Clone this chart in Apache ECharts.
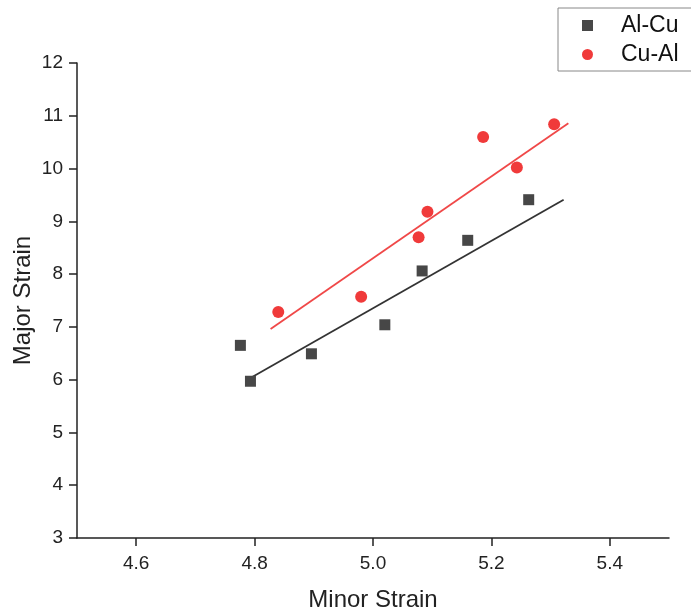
<!DOCTYPE html>
<html>
<head>
<meta charset="utf-8">
<script src="https://cdn.jsdelivr.net/npm/echarts@6/dist/echarts.min.js"></script>
<style>
  html, body { margin: 0; padding: 0; background: #fff; }
  #chart { width: 691px; height: 611px; }
</style>
</head>
<body>
<div id="chart"></div>
<script>
// Al-Cu measured points (minor strain, major strain)
const alCuX = [4.776, 4.793, 4.896, 5.020, 5.083, 5.160, 5.263]
const alCuY = [6.65, 5.97, 6.49, 7.04, 8.06, 8.64, 9.41]

// Cu-Al measured points
const cuAlX = [4.840, 4.980, 5.077, 5.092, 5.186, 5.243, 5.306]
const cuAlY = [7.28, 7.57, 8.70, 9.18, 10.60, 10.02, 10.84]

// linear fit end points
const alCuFitX = [4.793, 5.322]
const alCuFitY = [6.03, 9.41]
const cuAlFitX = [4.827, 5.330]
const cuAlFitY = [6.96, 10.86]

const xTicks = [4.6, 4.8, 5.0, 5.2, 5.4]

const zip = (xs, ys) => xs.map((x, i) => [x, ys[i]])

const font = 'Liberation Sans, Arial, sans-serif'

const chart = echarts.init(document.getElementById('chart'), null, { renderer: 'canvas' })

const option = {
  animation: false,
  backgroundColor: '#fff',
  // no outer bounds squeezing, keep the plot box where the figure has it
  grid: { left: 77, right: 22, top: 63, bottom: 73, containLabel: false, outerBoundsMode: 'none' },
  legend: {
    left: 558,
    top: 8,
    orient: 'vertical',
    data: ['Al-Cu', 'Cu-Al'],
    borderColor: '#888',
    borderWidth: 1,
    padding: [6, 60, 5, 24],
    itemWidth: 11,
    itemHeight: 11,
    itemGap: 6,
    textStyle: { fontFamily: font, fontSize: 23, color: '#111', padding: [0, 0, 0, 23], lineHeight: 23 }
  },
  xAxis: {
    type: 'value',
    min: 4.5,
    max: 5.5,
    name: 'Minor Strain',
    nameLocation: 'middle',
    nameGap: 50,
    nameMoveOverlap: false,
    nameTextStyle: { fontFamily: font, fontSize: 24, color: '#222' },
    splitLine: { show: false },
    axisLine: { show: true, onZero: false, lineStyle: { color: '#222', width: 1.5 } },
    axisTick: { show: true, length: 8, lineStyle: { color: '#222', width: 1.5 }, customValues: xTicks },
    axisLabel: { fontFamily: font, fontSize: 19, color: '#222', margin: 16, customValues: xTicks,
      formatter: v => v.toFixed(1) }
  },
  yAxis: {
    type: 'value',
    min: 3,
    max: 12,
    interval: 1,
    name: 'Major Strain',
    nameLocation: 'middle',
    nameGap: 42,
    nameMoveOverlap: false,
    nameTextStyle: { fontFamily: font, fontSize: 24, color: '#222' },
    splitLine: { show: false },
    axisLine: { show: true, onZero: false, lineStyle: { color: '#222', width: 1.5 } },
    axisTick: { show: true, length: 8, lineStyle: { color: '#222', width: 1.5 } },
    axisLabel: { fontFamily: font, fontSize: 19, color: '#222', margin: 14 }
  },
  series: [
    {
      name: 'Al-Cu fit',
      type: 'line',
      data: zip(alCuFitX, alCuFitY),
      showSymbol: false,
      lineStyle: { color: '#333', width: 1.8 },
      z: 1
    },
    {
      name: 'Cu-Al fit',
      type: 'line',
      data: zip(cuAlFitX, cuAlFitY),
      showSymbol: false,
      lineStyle: { color: '#f04848', width: 1.8 },
      z: 1
    },
    {
      name: 'Al-Cu',
      type: 'scatter',
      symbol: 'rect',
      symbolSize: 11,
      itemStyle: { color: '#474747', opacity: 1 },
      data: zip(alCuX, alCuY),
      z: 3
    },
    {
      name: 'Cu-Al',
      type: 'scatter',
      symbol: 'circle',
      symbolSize: 12,
      itemStyle: { color: '#f03a3a', opacity: 1 },
      data: zip(cuAlX, cuAlY),
      z: 3
    }
  ]
}

chart.setOption(option)
</script>
</body>
</html>
